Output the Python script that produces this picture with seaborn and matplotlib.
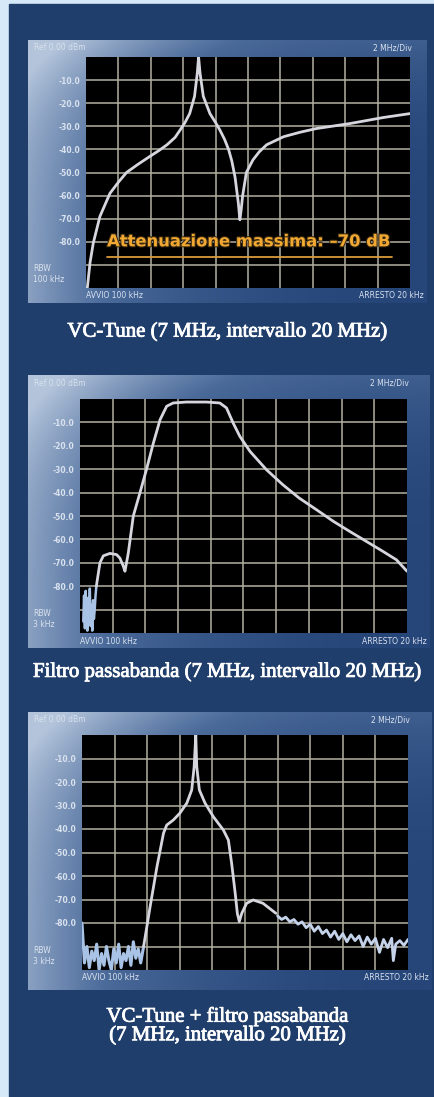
import numpy as np
import pandas as pd
import seaborn as sns
import matplotlib.pyplot as plt
import matplotlib.patheffects as pe
from matplotlib.colors import LinearSegmentedColormap
from matplotlib.patches import Rectangle

# --- data (MHz, dBm) ---
vc_freq = [0.08, 0.25, 0.45, 0.86, 1.48, 2.0, 2.5, 3.2, 3.95, 4.5, 5.0, 5.5, 5.8, 6.1,
           6.4, 6.7, 6.87, 6.95, 7.04, 7.24, 7.65, 8.0, 8.27, 8.55, 8.8, 9.0, 9.2, 9.4,
           9.5, 9.58, 9.67, 9.9, 10.3, 10.7, 11.15, 12.2, 13.2, 14.2, 16.3, 18.35, 20.0]
vc_db = [-100, -89, -80.5, -69, -59, -54.2, -50, -46.5, -43, -40.5, -38, -34.8, -31.7,
         -28.5, -24.5, -17, -7, 0, -7, -17, -24.5, -28.4, -31.7, -35.6, -40, -45, -52,
         -63, -70.5, -66, -60, -50, -44.6, -41, -38, -34.5, -32.6, -31, -28.8, -26.2,
         -24.5]

bp_freq = [1.0, 1.22, 1.43, 1.83, 2.24, 2.44, 2.65, 2.75, 2.95, 3.26, 3.67, 4.07, 4.48,
           4.9, 5.3, 5.7, 6.5, 7.74, 8.55, 8.96, 9.37, 9.78, 10.4, 11.4, 12.4, 13.4,
           14.46, 15.5, 16.5, 17.5, 18.5, 19.35, 20.0]
bp_db = [-80, -70, -67, -66, -66.5, -68, -71.5, -73.6, -66, -50, -40, -30, -19, -8.8,
         -3.1, -1.7, -1.3, -1.3, -1.7, -3.8, -10.3, -16, -22.4, -30.2, -36.6, -42.3,
         -47.3, -52.3, -56.6, -60.8, -65, -68.7, -73.6]
bp_noise_freq = [0.2, 0.25, 0.3, 0.35, 0.4, 0.45, 0.5, 0.55, 0.6, 0.65, 0.7, 0.75, 0.8,
                 0.85, 0.9, 0.95, 1.0]
bp_noise_db = [-95, -84, -98, -82, -93, -99, -85, -96, -81, -97, -88, -99, -86, -94,
               -90, -84, -80]

cb_freq = [3.78, 4.18, 4.6, 5.0, 5.2, 5.6, 6.0, 6.43, 6.73, 6.88, 6.98, 7.04, 7.2, 7.55,
           8.06, 8.67, 8.98, 9.18, 9.4, 9.53, 9.65, 9.8, 10.1, 10.5, 11.1, 11.9]
cb_db = [-90, -73, -56, -41.8, -38.3, -36.2, -33.3, -29, -23.4, -13.5, 0, -13.5, -23.4,
         -29, -34.8, -40.4, -44.7, -54.6, -67.4, -75.9, -79.4, -75.9, -71.6, -70.2,
         -71.6, -75.9]
cb_tail_freq = [12.0, 12.25, 12.5, 12.75, 13.0, 13.25, 13.5, 13.75, 14.0, 14.25, 14.5,
                14.75, 15.0, 15.25, 15.5, 15.75, 16.0, 16.25, 16.5, 16.75, 17.0, 17.25,
                17.5, 17.75, 18.0, 18.25, 18.5, 18.75, 19.0, 19.1, 19.25, 19.5, 19.75, 20.0]
cb_tail_db = [-77, -78.5, -77.5, -79.5, -78.5, -80.5, -79.5, -82, -80.5, -83.5, -81.5,
              -84.5, -83, -86, -83.5, -87, -84.5, -88, -85, -87.5, -85.5, -90, -86, -89,
              -86.5, -92.5, -87, -90.5, -86.5, -96, -89, -87.5, -89.5, -87]
cb_noise_freq = [0.0, 0.15, 0.3, 0.45, 0.6, 0.75, 0.9, 1.05, 1.2, 1.35, 1.5, 1.65, 1.8,
                 1.95, 2.1, 2.25, 2.4, 2.55, 2.7, 2.85, 3.0, 3.15, 3.3, 3.45, 3.6, 3.78]
cb_noise_db = [-80, -97, -90, -99, -92, -96, -89, -100, -93, -98, -90, -96, -100, -91,
               -97, -89, -99, -93, -96, -90, -98, -88, -95, -91, -97, -90]

y_ticks = [-10, -20, -30, -40, -50, -60, -70, -80, -90]
y_labels = ['-10.0', '-20.0', '-30.0', '-40.0', '-50.0', '-60.0', '-70.0', '-80.0', '']
x_ticks = [2, 4, 6, 8, 10, 12, 14, 16, 18]

W, H = 435, 1097
NAVY = '#203e6c'
TRACE = '#d6d6de'
NOISE = '#a9c3e6'
LABEL = '#d9e2ee'

sns.set_style('dark')
fig = plt.figure(figsize=(W / 100, H / 100), dpi=100)
fig.patch.set_facecolor('#d5e9f8')
fig.patches.append(Rectangle((9 / W, 0), 1, 1 - 4 / H, transform=fig.transFigure,
                             color=NAVY, zorder=-10))

frame_cmap = LinearSegmentedColormap.from_list('frame', ['#264579', '#4a6a9a', '#b3c4db'])
gx, gy = np.meshgrid(np.linspace(0, 1, 200), np.linspace(0, 1, 200))
grad = np.clip(0.8 * (1 - gx) ** 2.2 + 0.35 * (1 - gy) ** 4, 0, 1)


def px_axes(x, y, w, h):
    return fig.add_axes([x / W, 1 - (y + h) / H, w / W, h / H])


def panel(frame, plot, rbw, title_y, title):
    fx, fy, fw, fh = frame
    bg = px_axes(fx, fy, fw, fh)
    bg.imshow(grad, cmap=frame_cmap, aspect='auto', extent=[0, 1, 0, 1], origin='upper')
    bg.set_axis_off()

    px, py, pw, ph = plot
    ax = px_axes(px, py, pw, ph)
    ax.set_facecolor('black')
    ax.set_xlim(0, 20)
    ax.set_ylim(-100, 0)
    ax.set_xticks(x_ticks)
    ax.set_yticks(y_ticks)
    ax.set_xticklabels([])
    ax.set_yticklabels(y_labels, fontsize=5.5, fontweight='bold', color=LABEL)
    ax.tick_params(length=0, pad=4)
    ax.grid(True, color='#b3b0a2', linewidth=1.1)
    for s in ax.spines.values():
        s.set_visible(False)

    fig.text((fx + 6) / W, 1 - (fy + 8) / H, 'Ref 0.00 dBm', fontsize=5.5, color=LABEL,
             va='center')
    fig.text((px + pw + 2) / W, 1 - (fy + 8) / H, '2 MHz/Div', fontsize=5.5, color=LABEL,
             va='center', ha='right')
    fig.text((fx + 5) / W, 1 - (py + ph - 14) / H, 'RBW\n' + rbw, fontsize=5.5,
             color=LABEL, va='center', linespacing=1.3)
    fig.text(px / W, 1 - (py + ph + 8) / H, 'AVVIO 100 kHz', fontsize=5.5, color=LABEL,
             va='center')
    fig.text((fx + fw - 3) / W, 1 - (py + ph + 8) / H, 'ARRESTO 20 kHz', fontsize=5.5,
             color=LABEL, va='center', ha='right')
    fig.text(228 / W, 1 - title_y / H, title, fontsize=15, color='white', ha='center',
             va='center', family='Liberation Serif', linespacing=0.95,
             path_effects=[pe.withStroke(linewidth=0.6, foreground='white')])
    return ax


# panel 1: VC-Tune
ax1 = panel((28, 40, 399, 263), (86, 57, 324, 231), '100 kHz', 332,
            'VC-Tune (7 MHz, intervallo 20 MHz)')
sns.lineplot(x=vc_freq, y=vc_db, ax=ax1, color=TRACE, lw=2, estimator=None, sort=False)
ax1.text(1.3, -80, 'Attenuazione massima: \u201370 dB', fontsize=11.8, fontweight='bold',
         family='DejaVu Sans', color='#f2a934', va='center',
         path_effects=[pe.withStroke(linewidth=1.5, foreground='#3a2a10')])
ax1.plot([0.066, 0.945], [0.135, 0.135], transform=ax1.transAxes, color='#d89a3a', lw=1.3)

# panel 2: band-pass filter
ax2 = panel((28, 375, 402, 273), (80, 399, 327, 234), '3 kHz', 672,
            'Filtro passabanda (7 MHz, intervallo 20 MHz)')
sns.lineplot(x=bp_noise_freq, y=bp_noise_db, ax=ax2, color=NOISE, lw=1.8, estimator=None,
             sort=False)
sns.lineplot(x=bp_freq, y=bp_db, ax=ax2, color=TRACE, lw=2, estimator=None, sort=False)

# panel 3: VC-Tune + band-pass filter
ax3 = panel((28, 712, 404, 278), (82, 735, 326, 235), '3 kHz', 1026,
            'VC-Tune + filtro passabanda\n(7 MHz, intervallo 20 MHz)')
sns.lineplot(x=cb_noise_freq, y=cb_noise_db, ax=ax3, color=NOISE, lw=2.2, estimator=None,
             sort=False)
sns.lineplot(x=cb_freq, y=cb_db, ax=ax3, color=TRACE, lw=2, estimator=None, sort=False)
sns.lineplot(x=cb_tail_freq, y=cb_tail_db, ax=ax3, color='#c4d2ea', lw=2,
             estimator=None, sort=False)

fig.savefig('out.png', dpi=100, facecolor=fig.get_facecolor())
